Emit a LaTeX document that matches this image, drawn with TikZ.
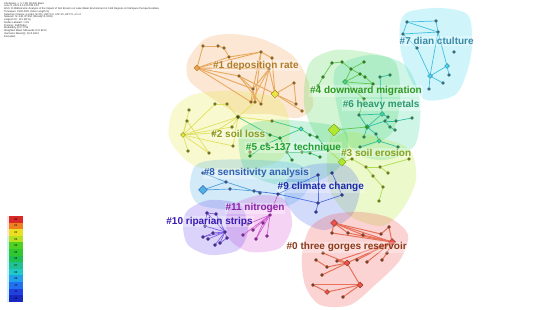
\documentclass[tikz,border=0pt]{standalone}
\usepackage{fontspec}
\setmainfont{Liberation Sans}
\usetikzlibrary{shapes.geometric}
\pgfdeclarelayer{bg}
\pgfdeclarelayer{edges}
\pgfsetlayers{bg,edges,main}
\definecolor{dk}{HTML}{4A3E30}
\definecolor{k0}{HTML}{F05050}
\definecolor{k1}{HTML}{F0A050}
\definecolor{k2}{HTML}{E8E840}
\definecolor{k3}{HTML}{B0E830}
\definecolor{k4}{HTML}{50D850}
\definecolor{k5}{HTML}{30D080}
\definecolor{k6}{HTML}{40D8A0}
\definecolor{k7}{HTML}{40D8F0}
\definecolor{k8}{HTML}{50B0E8}
\definecolor{k9}{HTML}{5070F0}
\definecolor{k10}{HTML}{7050E8}
\definecolor{k11}{HTML}{D850D8}
\definecolor{ec0}{HTML}{E87058}
\definecolor{ec1}{HTML}{E8AA60}
\definecolor{ec2}{HTML}{E0E060}
\definecolor{ec3}{HTML}{B0DC50}
\definecolor{ec4}{HTML}{60C850}
\definecolor{ec5}{HTML}{40C880}
\definecolor{ec6}{HTML}{30C0A8}
\definecolor{ec7}{HTML}{40C0E0}
\definecolor{ec8}{HTML}{50A0E0}
\definecolor{ec9}{HTML}{5070E0}
\definecolor{ec10}{HTML}{8060E0}
\definecolor{ec11}{HTML}{D060D0}
\definecolor{t0}{HTML}{8B3A1A}
\definecolor{t1}{HTML}{B07C28}
\definecolor{t2}{HTML}{8C9A20}
\definecolor{t3}{HTML}{8AA020}
\definecolor{t4}{HTML}{2F9A20}
\definecolor{t5}{HTML}{20A030}
\definecolor{t6}{HTML}{2E9A70}
\definecolor{t7}{HTML}{3A8AA8}
\definecolor{t8}{HTML}{3060B0}
\definecolor{t9}{HTML}{1A2AA8}
\definecolor{t10}{HTML}{3A1AB0}
\definecolor{t11}{HTML}{9020A8}
\begin{document}
\begin{tikzpicture}[x=1pt,y=-1pt,
  nd/.style={diamond,inner sep=0pt,draw=#1,line width=0.5pt},
  hull/.style={fill=#1,fill opacity=0.25,draw=none},
  ed/.style={draw=#1,line width=0.7pt},
  lbl/.style={text=#1,font=\bfseries\fontsize{10}{12}\selectfont,inner sep=1pt,fill=white,fill opacity=0.3,text opacity=1},
  lg/.style={minimum width=14pt,minimum height=6.6pt,inner sep=0pt,fill=#1,font=\fontsize{2.8}{3}\selectfont}]
\useasboundingbox (0,0) rectangle (550,310);
\begin{pgfonlayer}{bg}
\fill[white] (0,0) rectangle (550,310);
\fill[hull=k1] plot[smooth cycle] coordinates {(188,60) (205,39) (230,34) (262,39) (292,55) (307,78) (313,106) (298,118) (268,114) (238,113) (210,97) (189,80)};
\fill[hull=k7] plot[smooth cycle] coordinates {(408,12) (440,8) (468,15) (472,45) (467,72) (455,95) (426,100) (411,80) (401,52) (400,25)};
\fill[hull=k4] plot[smooth cycle] coordinates {(312,60) (335,50) (365,52) (395,62) (400,100) (390,135) (350,150) (320,140) (305,110) (305,80)};
\fill[hull=k6] plot[smooth cycle] coordinates {(335,70) (370,55) (405,65) (420,100) (415,145) (385,160) (355,152) (340,120)};
\fill[hull=k3] plot[smooth cycle] coordinates {(328,150) (345,132) (380,138) (410,150) (416,180) (402,210) (382,226) (350,216) (330,190)};
\fill[hull=k2] plot[smooth cycle] coordinates {(173,110) (195,94) (240,91) (280,100) (290,130) (280,160) (240,170) (195,166) (170,140)};
\fill[hull=k5] plot[smooth cycle] coordinates {(240,130) (270,120) (310,122) (345,130) (345,160) (320,180) (280,185) (245,170)};
\fill[hull=k8] plot[smooth cycle] coordinates {(195,166) (215,160) (260,160) (300,165) (310,185) (290,205) (240,210) (200,205) (190,188)};
\fill[hull=k9] plot[smooth cycle] coordinates {(288,178) (310,165) (345,165) (360,185) (352,215) (325,230) (300,220) (285,200)};
\fill[hull=k11] plot[smooth cycle] coordinates {(232,205) (260,195) (285,200) (292,225) (280,248) (250,252) (230,240) (226,220)};
\fill[hull=k10] plot[smooth cycle] coordinates {(188,210) (210,200) (240,205) (248,230) (238,250) (210,255) (188,245) (183,225)};
\fill[hull=k0] plot[smooth cycle] coordinates {(310,228) (330,215) (360,212) (390,218) (408,235) (400,260) (375,285) (350,305) (320,305) (305,285) (302,255)};
\end{pgfonlayer}
% header
\node[anchor=north west,align=left,inner sep=0,font=\fontsize{2.6}{2.75}\selectfont,text=black!80] (hdr) at (4,2) {CiteSpace, v. 5.7.R5 (64-bit) Basic\\
June 9, 2021 4:13:25 PM CST\\
WoS: D:/Bibliometric Analysis of the Impact of Soil Erosion on Lake Water Environment in Cold Regions A CiteSpace Perspective/data\\
Timespan: 1990-2021 (Slice Length=1)\\
Selection Criteria: g-index (k=25), LRF=3.0, L/N=10, LBY=5, e=1.0\\
Network: N=148, E=254 (Density=0.0233)\\
Largest CC: 121 (81\%)\\
Nodes Labeled: 1.0\%\\
Pruning: Pathfinder\\
Modularity Q=0.7754\\
Weighted Mean Silhouette S=0.9213\\
Harmonic Mean(Q, S)=0.8421\\
Excluded:};
% legend
\fill[pink!40] (6.5,216) rectangle (9,236);
\fill[cyan!20] (6.5,236) rectangle (9,302);
\foreach \i/\c in {0/D82828,1/F08020,2/E8E020,3/B8E020,4/50D020,5/30C830,6/20C050,7/20C090,8/20C8C8,9/20A0E8,10/2070F0,11/2040E0,12/1828C0}{
  \definecolor{lgc}{HTML}{\c}
  \node[lg=lgc] (lg\i) at (16,{219.3+\i*6.6}) {\ifnum\i<10 0\fi\i};
}
% nodes
\foreach \n/\x/\y/\s/\f in {a/334/223/7/k0,b/332/233/3.2/dk,c/348/233/3.2/dk,d/363/235/3.2/dk,e/381/234/3.2/dk,f/389/227/3.2/dk,g/392/242/7/k0,h/323/253/3.2/dk,i/316/260/3.2/dk,j/327/267/3.2/dk,k/337/261/3.2/dk,l/347/263/6/k0,m/357/260/3.2/dk,n/367/262/3.2/dk,o/382/260/3.2/dk,p/387/253/3.2/dk,q/322/275/3.2/dk,r/360/285/6/k0,s/327/292/5/k0,t/313/285/3.2/dk,u/343/297/3.2/dk}
  \node[nd=t0,fill=\f,minimum size=\s pt] (p0\n) at (\x,\y) {};
\foreach \n/\x/\y/\s/\f in {a/203/46/3.2/dk,b/218/46/3.2/dk,c/224/48/3.2/dk,d/229/57/3.2/dk,e/261/52/3.2/dk,f/272/58/3.2/dk,g/197/68/6/k1,h/269/69/3.2/dk,i/239/76/3.2/dk,j/294/83/3.2/dk,k/253/89/3.2/dk,l/275/94/8/k2,m/251/102/3.2/dk,n/255/102/3.2/dk,o/261/104/3.2/dk,p/296/104/3.2/dk,q/302/111/3.2/dk}
  \node[nd=t1,fill=\f,minimum size=\s pt] (p1\n) at (\x,\y) {};
\foreach \n/\x/\y/\s/\f in {a/215/104/3.2/dk,b/227/104/3.2/dk,c/189/110/3.2/dk,d/187/121/3.2/dk,e/183/135/5/k2,f/213/133/3.2/dk,g/232/127/3.2/dk,h/238/117/4.5/dk,i/272/121/3.2/dk,j/188/151/3.2/dk,k/209/153/3.2/dk,l/233/146/3.2/dk,m/250/152/3.2/dk}
  \node[nd=t2,fill=\f,minimum size=\s pt] (p2\n) at (\x,\y) {};
\foreach \n/\x/\y/\s/\f in {a/334/130/12/k3,b/342/162/8/k3,c/352/159/3.2/dk,d/366/167/3.2/dk,e/380/167/3.2/dk,f/388/173/3.2/dk,g/373/176/3.2/dk,h/383/187/3.2/dk,i/379/201/3.2/dk,j/409/159/3.2/dk}
  \node[nd=t3,fill=\f,minimum size=\s pt] (p3\n) at (\x,\y) {};
\foreach \n/\x/\y/\s/\f in {a/332/63/3.2/dk,b/342/62/3.2/dk,c/364/62/3.2/dk,d/351/69/3.2/dk,e/323/77/3.2/dk,f/345/82/5/k6,g/360/74/3.2/dk,h/365/77/3.2/dk,i/318/86/3.2/dk,j/364/99/3.2/dk,k/373/84/3.2/dk}
  \node[nd=t4,fill=\f,minimum size=\s pt] (p4\n) at (\x,\y) {};
\foreach \n/\x/\y/\s/\f in {a/301/129/4.5/k7,b/310/135/3.2/dk,c/317/137/3.2/dk,d/270/135/3.2/dk,e/250/156/3.2/dk,f/267/144/3.2/dk,g/280/138/3.2/dk,h/287/152/3.2/dk,i/302/152/3.2/dk,j/328/150/3.2/dk,k/292/160/3.2/dk,l/310/153/3.2/dk,m/320/157/3.2/dk}
  \node[nd=t5,fill=\f,minimum size=\s pt] (p5\n) at (\x,\y) {};
\foreach \n/\x/\y/\s/\f in {a/390/75/3.2/dk,b/380/77/3.2/dk,c/382/114/5/k6,d/388/117/3.2/dk,e/385/121/3.2/dk,f/396/121/3.2/dk,g/412/118/3.2/dk,h/367/127/5/t4,i/390/127/3.2/dk,j/395/130/3.2/dk,k/376/134/3.2/dk,l/364/137/3.2/dk,m/379/141/4.5/k6,n/398/147/3.2/dk,o/360/147/3.2/dk,p/359/115/3.2/dk}
  \node[nd=t6,fill=\f,minimum size=\s pt] (p6\n) at (\x,\y) {};
\foreach \n/\x/\y/\s/\f in {a/407/22/3.2/dk,b/436/21/3.2/dk,c/438/32/3.2/dk,d/403/34/3.2/dk,e/417/48/3.2/dk,f/454/52/3.2/dk,g/447/66/5/k7,h/430/76/5/k7,i/449/75/3.2/dk,j/443/83/3.2/dk,k/429/89/3.2/dk}
  \node[nd=t7,fill=\f,minimum size=\s pt] (p7\n) at (\x,\y) {};
\foreach \n/\x/\y/\s/\f in {a/203/173/3.2/dk,b/203/190/9/k8,c/230/189/3.2/dk,d/226/182/3.2/dk,e/254/191/3.2/dk,f/260/193/3.2/dk}
  \node[nd=t8,fill=\f,minimum size=\s pt] (p8\n) at (\x,\y) {};
\foreach \n/\x/\y/\s/\f in {a/278/194/3.2/dk,b/318/175/3.2/dk,c/332/173/3.2/dk,d/342/195/3.2/dk,e/318/203/3.2/dk,f/316/212/3.2/dk}
  \node[nd=t9,fill=\f,minimum size=\s pt] (p9\n) at (\x,\y) {};
\foreach \n/\x/\y/\s/\f in {a/207/213/3.2/dk,b/216/214/3.2/dk,c/205/226/3.2/dk,d/203/237/3.2/dk,e/208/239/3.2/dk,f/220/243/3.2/dk,g/215/245/3.2/dk,h/227/238/3.2/dk,i/213/233/3.2/dk,j/225/232/3.2/dk}
  \node[nd=t10,fill=\f,minimum size=\s pt] (p10\n) at (\x,\y) {};
\foreach \n/\x/\y/\s/\f in {a/270/215/3.2/dk,b/263/223/3.2/dk,c/248/224/3.2/dk,d/253/230/3.2/dk,e/256/239/3.2/dk,f/243/235/3.2/dk,g/267/236/3.2/dk}
  \node[nd=t11,fill=\f,minimum size=\s pt] (p11\n) at (\x,\y) {};
% edges
\begin{pgfonlayer}{edges}
\foreach \a/\b in {a/g,a/c,a/d,a/e,b/g,c/g,d/g,e/f,f/g,l/g,m/g,n/g,k/l,j/l,h/l,i/j,q/l,l/r,r/s,r/t,r/u,s/t,p/g,o/p,a/b,k/g}
  \draw[ed=ec0,line width=1pt] (p0\a)--(p0\b);
\foreach \a/\b in {g/a,a/b,b/c,g/d,d/e,e/f,g/h,g/i,g/k,g/m,i/k,i/l,h/k,h/l,h/m,e/k,e/n,f/l,j/l,j/p,l/p,l/q,k/m,k/n,h/o,d/c,g/e,i/o}
  \draw[ed=ec1,line width=0.9pt] (p1\a)--(p1\b);
\foreach \a/\b in {e/a,e/c,e/d,e/f,e/g,e/h,e/j,f/h,g/h,a/b,h/i,h/b,d/k,l/h,e/l,e/k}
  \draw[ed=ec2] (p2\a)--(p2\b);
\foreach \a/\b in {b/c,c/d,d/e,e/f,d/g,g/h,h/i,e/j}
  \draw[ed=ec3] (p3\a)--(p3\b);
\foreach \a/\b in {a/b,c/d,d/f,d/g,f/g,g/h,h/k,f/k,e/i,f/j,a/e,b/d}
  \draw[ed=ec4] (p4\a)--(p4\b);
\foreach \a/\b in {a/b,b/c,a/g,d/g,f/g,g/h,h/i,i/j,e/f,h/k,i/l,l/m,c/j}
  \draw[ed=ec5] (p5\a)--(p5\b);
\foreach \a/\b in {a/b,c/d,d/e,c/h,h/e,e/f,f/g,h/l,h/k,k/m,i/j,m/n,m/o,h/p,e/i,c/p,b/c}
  \draw[ed=ec6] (p6\a)--(p6\b);
\foreach \a/\b in {a/b,a/c,b/c,d/c,a/d,e/h,c/g,g/h,h/k,h/j,g/i,c/h,d/e}
  \draw[ed=ec7] (p7\a)--(p7\b);
\foreach \a/\b in {b/c,b/d,c/e,d/e,e/f,a/d}
  \draw[ed=ec8] (p8\a)--(p8\b);
\foreach \a/\b in {a/e,e/f,e/d,b/e,c/d,a/b}
  \draw[ed=ec9] (p9\a)--(p9\b);
\foreach \a/\b in {j/a,j/b,j/c,j/d,j/e,j/f,j/g,j/h,j/i,a/b,a/c,h/f,i/d}
  \draw[ed=ec10] (p10\a)--(p10\b);
\foreach \a/\b in {a/b,a/c,a/d,a/e,a/f,a/g,b/e}
  \draw[ed=ec11] (p11\a)--(p11\b);
\draw[ed=ec5] (p2h)--(p5d);
\draw[ed=ec5] (p2i)--(p5a);
\draw[ed=ec3] (p5j)--(p3a);
\draw[ed=ec4] (p6h)--(p3a);
\draw[ed=ec4] (p4j)--(p6p);
\draw[ed=ec9] (p8e)--(p9a);
\draw[ed=ec11] (p9a)--(p11a);
\draw[ed=ec3] (p3b)--(p5j);
\draw[ed=ec2] (p1n)--(p2h);
\end{pgfonlayer}
% labels
\node[lbl=t0] (l0) at (346.7,247.3) {\#0 three gorges reservoir};
\node[lbl=t1] (l1) at (255.8,65.5) {\#1 deposition rate};
\node[lbl=t2] (l2) at (238.3,134.3) {\#2 soil loss};
\node[lbl=t3] (l3) at (376.2,152.7) {\#3 soil erosion};
\node[lbl=t4] (l4) at (366,91) {\#4 downward migration};
\node[lbl=t5] (l5) at (293.5,147.7) {\#5 cs-137 technique};
\node[lbl=t6] (l6) at (381.2,105) {\#6 heavy metals};
\node[lbl=t7] (l7) at (436.7,41) {\#7 dian ctulture};
\node[lbl=t8] (l8) at (256.3,173.3) {\#8 sensitivity analysis};
\node[lbl=t9] (l9) at (320.8,187.3) {\#9 climate change};
\node[lbl=t10] (l10) at (209.5,221.7) {\#10 riparian strips};
\node[lbl=t11] (l11) at (255,208.3) {\#11 nitrogen};
\end{tikzpicture}
\end{document}
